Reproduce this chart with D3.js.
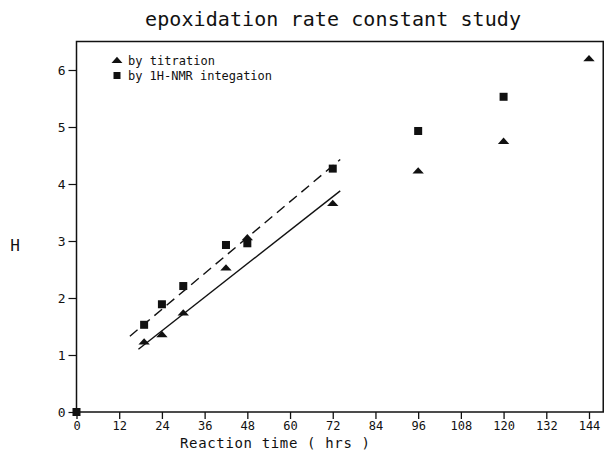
<!DOCTYPE html>
<html>
<head>
<meta charset="utf-8">
<script src="https://cdn.jsdelivr.net/npm/d3@7"></script>
<style>
  body { margin: 0; background: #fff; }
  svg { display: block; }
  text { font-family: "DejaVu Sans Mono", monospace; fill: #111; }
</style>
</head>
<body>
<div id="chart"></div>
<script>
// Data
const titrationTime = [19, 24, 30, 42, 48, 72, 96, 120, 144];
const titrationH = [1.22, 1.35, 1.73, 2.52, 3.05, 3.65, 4.22, 4.74, 6.19];
const nmrTime = [0, 19, 24, 30, 42, 48, 72, 96, 120];
const nmrH = [0, 1.53, 1.89, 2.21, 2.93, 2.96, 4.27, 4.93, 5.53];
// fitted lines (start / end points)
const titrationFit = [[17.4, 1.1], [74.1, 3.88]];
const nmrFit = [[15, 1.33], [74.1, 4.43]];
const xTicks = [0, 12, 24, 36, 48, 60, 72, 84, 96, 108, 120, 132, 144];
const yTicks = [0, 1, 2, 3, 4, 5, 6];

const width = 605;
const height = 451;

const svg = d3.select("#chart")
  .append("svg")
  .attr("width", width)
  .attr("height", height);

// Scales
const x = d3.scaleLinear().domain([0, 144]).range([76.5, 589]);
const y = d3.scaleLinear().domain([0, 6]).range([412, 70]);

// Frame
svg.append("rect")
  .attr("x", x(0))
  .attr("y", y(6.5))
  .attr("width", x(148) - x(0))
  .attr("height", y(0) - y(6.5))
  .attr("fill", "none")
  .attr("stroke", "#111")
  .attr("stroke-width", 1.5);

// X axis
const xAxis = svg.append("g")
  .attr("transform", `translate(0,${y(0)})`)
  .call(d3.axisBottom(x).tickValues(xTicks).tickSize(7).tickPadding(2).tickSizeOuter(0));
xAxis.select(".domain").remove();
xAxis.selectAll("line").attr("stroke", "#111").attr("stroke-width", 1.3);
xAxis.selectAll("text")
  .style("font-family", "'DejaVu Sans Mono', monospace")
  .style("font-size", "12px")
  .attr("fill", "#111");

// Y axis
const yAxis = svg.append("g")
  .attr("transform", `translate(${x(0)},0)`)
  .call(d3.axisLeft(y).tickValues(yTicks).tickFormat(d3.format("d")).tickSize(8).tickPadding(3).tickSizeOuter(0));
yAxis.select(".domain").remove();
yAxis.selectAll("line").attr("stroke", "#111").attr("stroke-width", 1.2);
yAxis.selectAll("text")
  .style("font-family", "'DejaVu Sans Mono', monospace")
  .style("font-size", "13px")
  .attr("fill", "#111");

// Title and axis labels
svg.append("text")
  .attr("x", 333)
  .attr("y", 26)
  .attr("text-anchor", "middle")
  .attr("font-size", 20)
  .attr("textLength", 376)
  .text("epoxidation rate constant study");

svg.append("text")
  .attr("x", 275)
  .attr("y", 448)
  .attr("text-anchor", "middle")
  .attr("font-size", 14)
  .attr("textLength", 190)
  .text("Reaction time ( hrs )");

svg.append("text")
  .attr("x", 15)
  .attr("y", 251)
  .attr("text-anchor", "middle")
  .attr("font-size", 16)
  .text("H");

// Fit lines
const line = d3.line().x((d) => x(d[0])).y((d) => y(d[1]));

svg.append("path")
  .datum(titrationFit)
  .attr("fill", "none")
  .attr("stroke", "#111")
  .attr("stroke-width", 1.4)
  .attr("d", line);

svg.append("path")
  .datum(nmrFit)
  .attr("fill", "none")
  .attr("stroke", "#111")
  .attr("stroke-width", 1.4)
  .attr("stroke-dasharray", "10,6")
  .attr("d", line);

// Markers
const triangle = d3.symbol().type(d3.symbolTriangle).size(36);

svg.append("g")
  .selectAll("rect")
  .data(nmrTime.map((t, i) => [t, nmrH[i]]))
  .join("rect")
  .attr("x", (d) => x(d[0]) - 4)
  .attr("y", (d) => y(d[1]) - 4)
  .attr("width", 8)
  .attr("height", 8)
  .attr("fill", "#111");

svg.append("g")
  .selectAll("path")
  .data(titrationTime.map((t, i) => [t, titrationH[i]]))
  .join("path")
  .attr("d", triangle)
  .attr("transform", (d) => `translate(${x(d[0])},${y(d[1])}) scale(1.25,0.8)`)
  .attr("fill", "#111");

// Legend
const legend = svg.append("g").attr("transform", "translate(117,0)");
legend.append("path")
  .attr("d", triangle)
  .attr("transform", "translate(0,61) scale(1.2,0.8)")
  .attr("fill", "#111");
legend.append("text")
  .attr("x", 11)
  .attr("y", 65)
  .attr("font-size", 12)
  .attr("textLength", 87)
  .text("by titration");
legend.append("rect")
  .attr("x", -3.5)
  .attr("y", 72)
  .attr("width", 7)
  .attr("height", 7)
  .attr("fill", "#111");
legend.append("text")
  .attr("x", 11)
  .attr("y", 80)
  .attr("font-size", 12)
  .attr("textLength", 144)
  .text("by 1H-NMR integation");
</script>
</body>
</html>
